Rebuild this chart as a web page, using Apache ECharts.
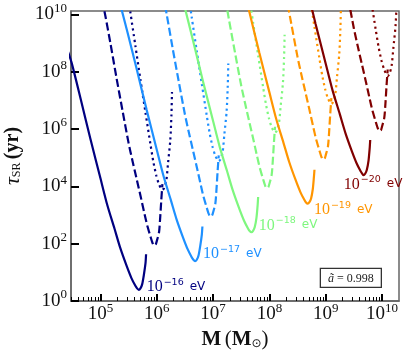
<!DOCTYPE html>
<html>
<head>
	<meta charset="utf-8" />
	<title>tau_SR vs M</title>
	<script src="https://cdn.jsdelivr.net/npm/echarts@6/dist/echarts.min.js"></script>
</head>
<body style="margin:0;background:#fff;">
	<div id="main" style="width:407px;height:357px;"></div>
	<script type="text/javascript">

		// values are log10(M / Msun) and log10(tau_SR / yr)
		// l = 1 (solid)
		var sol16 = [[4.42,8.72],[4.49,8.30],[4.65,7.04],[4.82,5.67],[5.00,4.28],[5.12,3.36],[5.25,2.52],[5.35,1.86],[5.46,1.25],[5.55,0.80],[5.62,0.53],[5.65,0.44],[5.68,0.39],[5.71,0.44],[5.74,0.58],[5.77,0.90],[5.80,1.32],[5.81,1.63]];
		var sol17 = [[5.37,10.21],[5.49,9.30],[5.65,8.04],[5.82,6.67],[6.00,5.28],[6.12,4.36],[6.25,3.52],[6.35,2.86],[6.46,2.25],[6.55,1.80],[6.62,1.53],[6.65,1.44],[6.68,1.39],[6.71,1.44],[6.74,1.58],[6.77,1.90],[6.80,2.32],[6.81,2.60]];
		var sol18 = [[6.37,11.21],[6.49,10.30],[6.65,9.04],[6.82,7.67],[7.00,6.28],[7.12,5.36],[7.25,4.52],[7.35,3.86],[7.46,3.25],[7.55,2.80],[7.62,2.53],[7.65,2.44],[7.68,2.40],[7.71,2.45],[7.74,2.58],[7.77,2.90],[7.79,3.32],[7.80,3.63]];
		var sol19 = [[7.37,12.21],[7.49,11.30],[7.65,10.04],[7.82,8.67],[8.00,7.28],[8.12,6.36],[8.25,5.52],[8.35,4.86],[8.46,4.25],[8.55,3.80],[8.62,3.53],[8.65,3.44],[8.68,3.40],[8.71,3.45],[8.74,3.58],[8.77,3.90],[8.79,4.32],[8.80,4.58]];
		var sol20 = [[8.37,13.21],[8.49,12.30],[8.65,11.04],[8.82,9.67],[9.00,8.28],[9.12,7.36],[9.25,6.52],[9.35,5.86],[9.46,5.25],[9.55,4.80],[9.62,4.53],[9.65,4.44],[9.67,4.39],[9.70,4.44],[9.73,4.58],[9.76,4.90],[9.78,5.32],[9.79,5.62]];

		// l = 2 (dashed)
		var dash16 = [[5.02,10.50],[5.07,10.12],[5.18,8.96],[5.28,7.84],[5.39,6.66],[5.50,5.51],[5.57,4.88],[5.64,4.28],[5.71,3.68],[5.78,3.06],[5.83,2.64],[5.89,2.24],[5.92,2.05],[5.95,1.94],[5.98,1.97],[6.00,2.09],[6.04,2.40],[6.06,2.89],[6.08,3.52],[6.10,4.08]];
		var dash17 = [[6.02,11.50],[6.07,11.12],[6.18,9.96],[6.28,8.84],[6.39,7.66],[6.50,6.51],[6.57,5.88],[6.64,5.28],[6.71,4.68],[6.78,4.06],[6.83,3.64],[6.89,3.24],[6.92,3.05],[6.95,2.95],[6.98,2.98],[7.00,3.09],[7.04,3.40],[7.06,3.89],[7.08,4.52],[7.10,5.08]];
		var dash18 = [[7.02,12.50],[7.07,12.12],[7.18,10.96],[7.28,9.84],[7.39,8.66],[7.50,7.51],[7.57,6.88],[7.64,6.28],[7.71,5.68],[7.78,5.06],[7.83,4.64],[7.89,4.24],[7.92,4.05],[7.95,3.94],[7.98,3.97],[8.00,4.09],[8.04,4.40],[8.06,4.89],[8.08,5.52],[8.10,6.08]];
		var dash19 = [[8.02,13.50],[8.07,13.12],[8.18,11.96],[8.28,10.84],[8.39,9.66],[8.50,8.51],[8.57,7.88],[8.64,7.28],[8.71,6.68],[8.78,6.06],[8.83,5.64],[8.89,5.24],[8.92,5.05],[8.95,4.94],[8.98,4.97],[9.00,5.09],[9.04,5.40],[9.06,5.89],[9.08,6.52],[9.10,7.08]];
		var dash20 = [[9.02,14.50],[9.07,14.12],[9.18,12.96],[9.28,11.84],[9.39,10.66],[9.50,9.51],[9.57,8.88],[9.64,8.28],[9.71,7.68],[9.78,7.06],[9.83,6.64],[9.89,6.24],[9.92,6.05],[9.95,5.93],[9.98,5.96],[10.00,6.09],[10.04,6.40],[10.06,6.89],[10.08,7.52],[10.10,8.08]];

		// l = 3 (dotted)
		var dot16 = [[5.50,10.50],[5.53,10.09],[5.62,8.91],[5.71,7.72],[5.80,6.57],[5.89,5.44],[5.94,4.85],[5.99,4.39],[6.04,4.07],[6.10,3.88],[6.13,3.94],[6.17,4.21],[6.20,4.81],[6.24,5.61],[6.26,6.48],[6.27,7.29]];
		var dot17 = [[6.50,11.50],[6.53,11.09],[6.62,9.91],[6.71,8.72],[6.80,7.57],[6.89,6.44],[6.94,5.85],[6.99,5.39],[7.04,5.07],[7.10,4.88],[7.13,4.94],[7.17,5.21],[7.20,5.81],[7.24,6.61],[7.26,7.48],[7.27,8.29]];
		var dot18 = [[7.50,12.50],[7.53,12.09],[7.62,10.91],[7.71,9.72],[7.80,8.57],[7.89,7.44],[7.94,6.85],[7.99,6.39],[8.04,6.07],[8.10,5.88],[8.13,5.94],[8.17,6.21],[8.20,6.81],[8.24,7.61],[8.26,8.48],[8.27,9.29]];
		var dot19 = [[8.50,13.50],[8.53,13.09],[8.62,11.91],[8.71,10.72],[8.80,9.57],[8.89,8.44],[8.94,7.85],[8.99,7.39],[9.04,7.07],[9.10,6.88],[9.13,6.94],[9.17,7.21],[9.20,7.81],[9.24,8.61],[9.26,9.48],[9.27,10.29]];
		var dot20 = [[9.50,14.50],[9.53,14.09],[9.62,12.91],[9.71,11.72],[9.80,10.57],[9.89,9.44],[9.94,8.85],[9.99,8.39],[10.04,8.07],[10.10,7.85],[10.13,7.92],[10.17,8.21],[10.20,8.81],[10.24,9.61],[10.26,10.48],[10.27,11.29]];

		var massExp = ['−16','−17','−18','−19','−20'];
		var xTicks = [5,6,7,8,9,10];
		var spin = '0.998';

		var myChart = echarts.init(document.getElementById('main'), null, {renderer:'canvas'});

		var colors = ['#000080','#1e90ff','#7ef77e','#ff9500','#800000'];
		var solids = [sol16,sol17,sol18,sol19,sol20];
		var dashes = [dash16,dash17,dash18,dash19,dash20];
		var dots = [dot16,dot17,dot18,dot19,dot20];
		// where each "10^-n eV" tag sits (data coords)
		var tagAt = [[5.82,0.48],[6.82,1.63],[7.81,2.64],[8.79,3.17],[9.32,4.07]];

		var serif = 'Liberation Serif';
		var sans = 'DejaVu Sans';

		function curve(data, color, dash) {
			return {
				type:'line',
				data:data,
				symbol:'none',
				smooth:0.25,
				clip:true,
				silent:true,
				animation:false,
				lineStyle:{color:color, width:2.2, type:dash, cap:'butt'}
			};
		}

		var series = [];
		for (var i = 0; i < 5; i++) {
			var s = curve(solids[i], colors[i], 'solid');
			s.markPoint = {
				symbol:'circle',
				symbolSize:0,
				silent:true,
				animation:false,
				data:[{coord:tagAt[i]}],
				label:{
					show:true,
					position:'right',
					distance:0,
					formatter:'{n|10}{s|' + massExp[i] + '}{e|eV}',
					rich:{
						n:{fontFamily:serif, fontSize:16, color:colors[i]},
						s:{fontFamily:sans, fontSize:9.5, color:colors[i], padding:[0,0,9,1]},
						e:{fontFamily:sans, fontSize:12, color:colors[i], padding:[0,0,0,6]}
					}
				}
			};
			series.push(s);
			series.push(curve(dashes[i], colors[i], [8,3.5]));
			series.push(curve(dots[i], colors[i], [2.2,3.5]));
		}

		var minorTicks = [];
		for (var e = 4; e <= 10; e++) {
			for (var k = 2; k <= 9; k++) {
				var v = e + Math.log10(k);
				if (v > 4.477 && v < 10.301) minorTicks.push(v);
			}
		}

		var tickLabel = {
			formatter:function(v){ return '{b|10}{s|' + v + '}'; },
			rich:{
				b:{fontFamily:serif, fontSize:19, color:'#111'},
				s:{fontFamily:serif, fontSize:13, color:'#111', padding:[0,0,12,0]}
			}
		};

		var option = {
			animation:false,
			grid:{left:71, right:8, top:11, bottom:56, outerBoundsMode:'none', containLabel:false,
				show:true, borderColor:'#666', borderWidth:1.5, backgroundColor:'#fff'},
			xAxis:[
				{
					type:'value', min:4.477, max:10.301,
					axisLine:{show:true, lineStyle:{color:'#666', width:1.5}},
					splitLine:{show:false},
					axisTick:{show:true, inside:true, length:7, customValues:xTicks, lineStyle:{color:'#000', width:2}},
					axisLabel:{show:true, margin:1, customValues:xTicks, formatter:tickLabel.formatter, rich:tickLabel.rich},
					name:'{m|M} {p|(}{m|M}{o|⊙}{p|)}',
					nameLocation:'middle',
					nameGap:26,
					nameTextStyle:{
						rich:{
							m:{fontFamily:serif, fontSize:21, fontWeight:'bold', color:'#111'},
							p:{fontFamily:serif, fontSize:21, color:'#111'},
							o:{fontFamily:sans, fontSize:12, color:'#111', padding:[9,0,0,0]}
						}
					}
				},
				{
					type:'value', min:4.477, max:10.301, position:'bottom',
					axisLine:{show:false},
					splitLine:{show:false},
					axisLabel:{show:false},
					axisTick:{show:true, inside:true, length:4, customValues:minorTicks, lineStyle:{color:'#000', width:1}}
				}
			],
			yAxis:{
				type:'value', min:0, max:10.12, interval:2,
				axisLine:{show:true, lineStyle:{color:'#666', width:1.5}},
				splitLine:{show:false},
				axisTick:{show:true, inside:true, length:8, lineStyle:{color:'#000', width:2}},
				axisLabel:{margin:4, formatter:tickLabel.formatter, rich:tickLabel.rich, showMaxLabel:false},
				name:'{t|τ}{r|SR} {b|(yr)}',
				nameLocation:'middle',
				nameRotate:90,
				nameGap:45,
				nameTextStyle:{
					rich:{
						t:{fontFamily:serif, fontStyle:'italic', fontSize:22, color:'#111'},
						r:{fontFamily:serif, fontSize:12, color:'#111', padding:[8,0,0,0]},
						b:{fontFamily:serif, fontSize:20, fontWeight:'bold', color:'#111'}
					}
				}
			},
			graphic:[
				{
					type:'group', right:25, bottom:69,
					children:[
						{type:'rect', shape:{x:0, y:0, width:61, height:19}, style:{fill:'#fff', stroke:'#333', lineWidth:1.3}},
						{type:'text', x:30.5, y:10, style:{
							text:'{i|ã} = ' + spin,
							rich:{i:{fontFamily:serif, fontStyle:'italic', fontSize:12, fill:'#222'}},
							font:'12px "Liberation Serif"', fill:'#222', align:'center', verticalAlign:'middle'
						}}
					]
				}
			],
			series:series
		};

		myChart.setOption(option);

	</script>
</body>
</html>
